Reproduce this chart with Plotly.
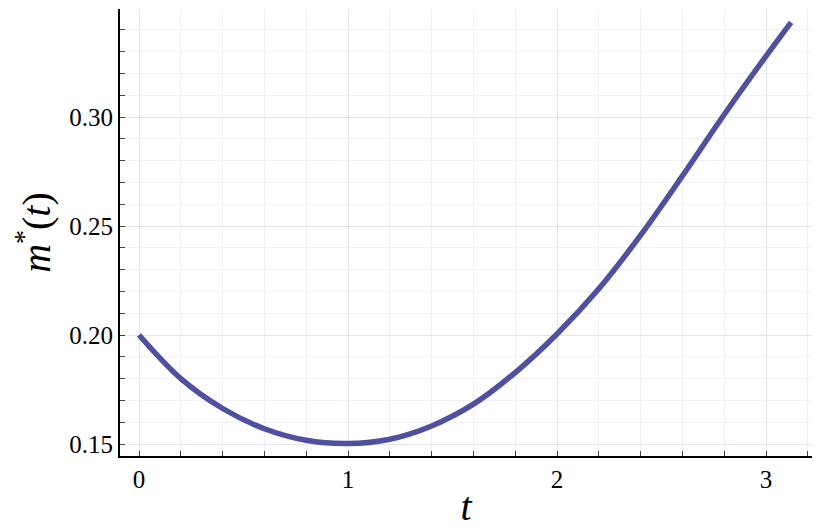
import plotly.graph_objects as go

# values
t_vals = [0.0, 0.2, 0.4, 0.6, 0.8, 1.0, 1.2, 1.4, 1.6, 1.8, 2.0, 2.2, 2.4, 2.6, 2.8, 3.0, 3.12]
m_vals = [0.2000, 0.1800, 0.1663, 0.1570, 0.1517, 0.1502, 0.1522, 0.1583, 0.1683, 0.1828,
          0.2005, 0.2212, 0.2458, 0.2730, 0.3012, 0.3280, 0.3435]

x_ticks = [0, 1, 2, 3]
y_ticks = [0.15, 0.20, 0.25, 0.30]

FONT = "Liberation Serif"

fig = go.Figure()
fig.add_trace(go.Scatter(
    x=t_vals, y=m_vals, mode="lines",
    line=dict(color="#4f51a0", width=5.5, shape="spline", smoothing=1.0),
    showlegend=False,
))

axis_common = dict(
    showline=True, linecolor="black", linewidth=2,
    ticks="inside", ticklen=5, tickwidth=1, tickcolor="#444444",
    showgrid=True, gridcolor="#e4e4ec", gridwidth=1,
    zeroline=False, mirror=False, automargin=False,
    tickfont=dict(family=FONT, size=25, color="black"),
)

fig.update_xaxes(
    **axis_common,
    range=[-0.091, 3.22],
    tickvals=x_ticks, ticktext=[str(v) for v in x_ticks],
    minor=dict(dtick=0.2, tick0=0, ticks="inside", ticklen=5, tickcolor="#444444",
               showgrid=True, gridcolor="#f1f1f5", gridwidth=1),
    title=dict(text="<i>t</i>", font=dict(family=FONT, size=40, color="black"), standoff=0),
)
fig.update_yaxes(
    **axis_common,
    range=[0.1445, 0.3496],
    tickvals=y_ticks, ticktext=[f"{v:.2f}" for v in y_ticks],
    minor=dict(dtick=0.01, tick0=0.15, ticks="inside", ticklen=5, tickcolor="#444444",
               showgrid=True, gridcolor="#f1f1f5", gridwidth=1),
    title=dict(text="<i>m</i><sup>*</sup>(<i>t</i>)", font=dict(family=FONT, size=40, color="black"),
               standoff=15),
)

# page body adds an 8px offset, so the figure is drawn a bit smaller
fig.update_layout(
    width=814, height=524,
    margin=dict(l=112, r=10, t=1, b=76),
    plot_bgcolor="white", paper_bgcolor="white",
)

fig.write_html("out.html")
